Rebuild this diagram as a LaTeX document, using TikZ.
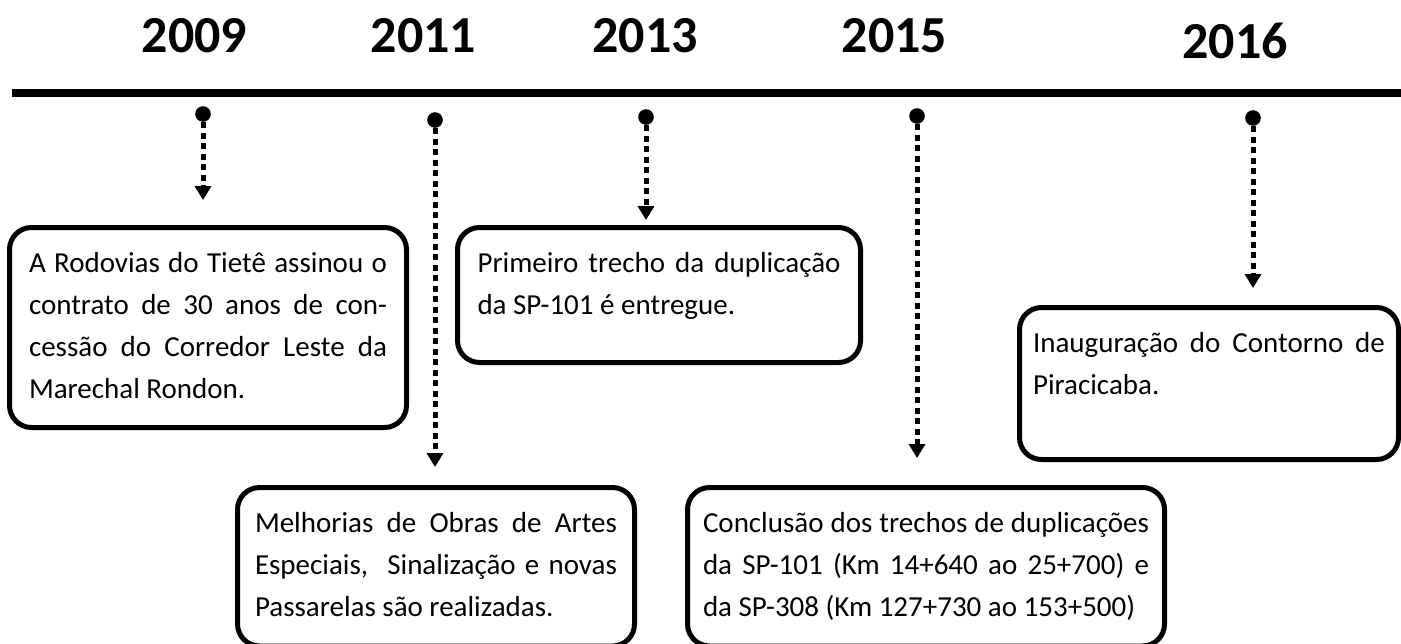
\documentclass[tikz,border=0pt]{standalone}
\usepackage{fontspec}
\setmainfont{Carlito}
\usepackage{tikz}
\usetikzlibrary{positioning,calc}
\usetikzlibrary{arrows.meta}
\tikzstyle{year} = [anchor=base,inner sep=0,font=\fontsize{26}{30}\selectfont\bfseries]
\tikzstyle{yeardot} = [circle,fill,inner sep=0,minimum size=7.8pt]
\tikzstyle{event} = [draw,line width=2.5pt,rounded corners=11pt,anchor=north west,inner ysep=0,text height=22.5pt,align=justify,font=\fontsize{14.5}{21}\selectfont]
\tikzstyle{arrow} = [line width=2.5pt,dash pattern=on 3pt off 2.25pt,-{Triangle[width=8pt,length=7pt]}]

\begin{document}
\begin{tikzpicture}[x=0.5pt,y=-0.5pt]
\useasboundingbox (0,0) rectangle (1401,643);
\node[year] (y09) at (194.5,52) {2009};
\node[year] (y11) at (423.5,52) {2011};
\node[year] (y13) at (645,52) {2013};
\node[year] (y15) at (894.5,52) {2015};
\node[year] (y16) at (1235,58) {2016};
\coordinate (tl1) at (12,93);
\coordinate (tl2) at (1401,93);
\draw[line width=4pt] (tl1) -- (tl2);
\node[yeardot] (d09) at (203,114) {};
\node[yeardot] (d11) at (435,120) {};
\node[yeardot] (d13) at (646,117) {};
\node[yeardot] (d15) at (917,116) {};
\node[yeardot] (d16) at (1253,118) {};
\node[event,inner xsep=9.75pt,text width=179pt,text depth=77.5pt] (e09) at (7,225)
  {A Rodovias do Tietê assinou o\linebreak contrato de 30 anos de con-\linebreak cessão do Corredor Leste da\linebreak Marechal Rondon.};
\node[event,inner xsep=10pt,text width=181.5pt,text depth=45pt] (e13) at (455,225)
  {Primeiro trecho da duplicação\linebreak da SP-101 é entregue.};
\node[event,inner xsep=6.75pt,text width=176pt,text depth=53.5pt] (e16) at (1017,305)
  {Inauguração do Contorno de\linebreak Piracicaba.};
\node[event,inner xsep=8.75pt,text width=181pt,text depth=56.75pt] (e11) at (235,485)
  {Melhorias de Obras de Artes\linebreak Especiais, \ Sinalização e novas\linebreak Passarelas são realizadas.};
\node[event,inner xsep=7.75pt,text width=223pt,text depth=56.75pt] (e15) at (685,485)
  {Conclusão dos trechos de duplicações\linebreak da SP-101 (Km 14+640 ao 25+700) e\linebreak da SP-308 (Km 127+730 ao 153+500)};
\draw[arrow,shorten >=12.5pt] (d09) -- (d09 |- e09.north);
\draw[arrow,shorten >=9pt] (d11) -- (d11 |- e11.north);
\draw[arrow,shorten >=2.5pt] (d13) -- (d13 |- e13.north);
\draw[arrow,shorten >=13.5pt] (d15) -- (d15 |- e15.north);
\draw[arrow,shorten >=8.5pt] (d16) -- (d16 |- e16.north);
\end{tikzpicture}
\end{document}
